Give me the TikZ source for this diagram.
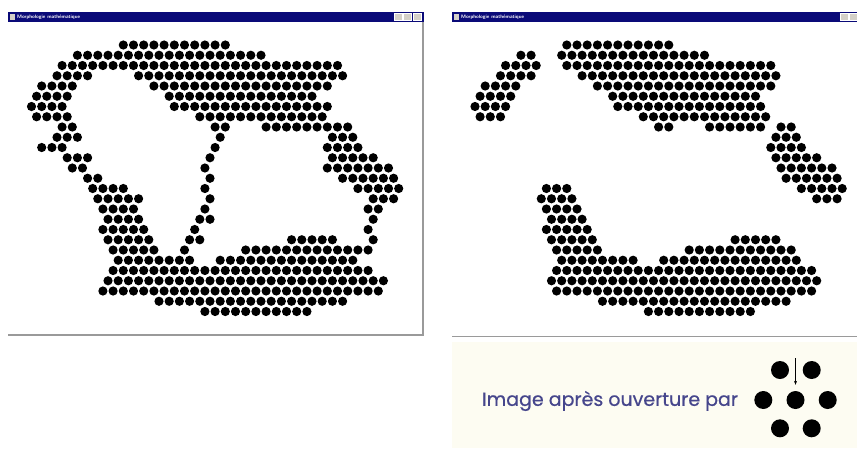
\documentclass[tikz,border=0pt]{standalone}
\usepackage{fontspec}
\newfontfamily\capfont{Poppins}[FakeBold=0.6]
\usetikzlibrary{arrows.meta}
\definecolor{titlenavy}{HTML}{0A0A78}
\definecolor{framegray}{HTML}{9A9A9A}
\definecolor{panelcream}{HTML}{FDFCF2}
\definecolor{captionblue}{HTML}{46468C}
\definecolor{btngray}{HTML}{D4D0C8}
\def\rowsL{0/0/20, 1/-9/27, 2/-12/42, 3/-13/-7, 3/3/43, 4/-16/-10, 4/6/40, 5/-17/-11, 5/9/37, 6/-18/-12, 6/10/40, 7/-17/-11, 7/15/39, 8/-12/-10, 8/18/20, 8/28/44, 9/-13/-9, 9/19/19, 9/41/45, 10/-16/-12, 10/18/18, 10/40/46, 11/-11/-7, 11/17/17, 11/41/49, 12/-10/-8, 12/16/16, 12/40/52, 13/-7/-5, 13/17/17, 13/43/53, 14/-6/0, 14/16/16, 14/46/54, 15/-5/3, 15/17/17, 15/49/53, 16/-4/2, 16/16/16, 16/48/50, 17/-3/3, 17/15/17, 17/49/49, 18/-4/4, 18/14/14, 18/48/48, 19/-3/5, 19/13/15, 19/33/41, 19/49/49, 20/-2/6, 20/12/12, 20/24/48, 21/-1/13, 21/19/45, 22/-2/48, 23/-3/51, 24/-4/50, 25/7/43, 26/16/36}
\def\rowsR{0/0/20, 1/-9/-7, 1/-1/27, 2/-12/-6, 2/0/40, 3/-13/-7, 3/3/41, 4/-16/-10, 4/6/40, 5/-17/-11, 5/9/37, 6/-18/-12, 6/10/38, 7/-17/-13, 7/15/39, 8/18/20, 8/28/38, 8/42/44, 9/41/45, 10/40/46, 11/41/49, 12/42/52, 13/43/53, 14/-4/0, 14/46/54, 15/-5/1, 15/49/53, 16/-4/2, 17/-3/3, 18/-4/4, 19/-3/5, 19/33/41, 20/-2/6, 20/24/44, 21/-1/13, 21/19/45, 22/-2/48, 23/-3/49, 24/-2/48, 25/7/43, 26/16/36}
\begin{document}
\begin{tikzpicture}[x=1pt,y=-1pt,
  titlebar/.style={fill=titlenavy},
  titletext/.style={text=white,font=\sffamily\bfseries\fontsize{5}{5}\selectfont,anchor=west,inner sep=0pt},
  btn/.style={fill=btngray,draw=white,line width=0.4pt},
  frameline/.style={draw=framegray,line width=1.6pt},
  pix/.style={fill=black},
  sedot/.style={circle,fill=black,minimum size=18pt,inner sep=0pt}]
\useasboundingbox (0,0) rectangle (857,448);
\fill[white] (0,0) rectangle (857,448);
% ---- left window
\fill[titlebar] (8,11.5) rectangle (424,22);
\fill[btngray] (10,14) rectangle (15,19.5);
\node[titletext] (titleL) at (17,16.8) {Morphologie mathématique};
\fill[btn] (394,13.5) rectangle (402,20.5);
\fill[btn] (403,13.5) rectangle (411,20.5);
\fill[btn] (413,13.5) rectangle (421,20.5);
\draw[frameline] (423,22) -- (423,336);
\draw[frameline] (8,335) -- (423,335);
% ---- right window
\fill[titlebar] (452,11.5) rectangle (857,22);
\fill[btngray] (454,14) rectangle (459,19.5);
\node[titletext] (titleR) at (461,16.8) {Morphologie mathématique};
\fill[btn] (840,13.5) rectangle (848,20.5);
\fill[btn] (849,13.5) rectangle (857,20.5);
\draw[frameline] (452,336.5) -- (857,336.5);
% ---- dots
\foreach \r/\a/\b in \rowsL {
  \pgfmathtruncatemacro\nn{(\b-\a)/2}
  \pgfmathsetmacro\yy{45+\r*10.25}
  \foreach \k in {0,...,\nn} {
    \pgfmathsetmacro\xx{123.3+\a*5.1+\k*10.2}
    \fill[pix] (\xx,\yy) circle (4.6pt);
  }
}
\foreach \r/\a/\b in \rowsR {
  \pgfmathtruncatemacro\nn{(\b-\a)/2}
  \pgfmathsetmacro\yy{45+\r*10.25}
  \foreach \k in {0,...,\nn} {
    \pgfmathsetmacro\xx{566.8+\a*5.1+\k*10.2}
    \fill[pix] (\xx,\yy) circle (4.6pt);
  }
}
% ---- caption panel
\fill[panelcream] (452,342) rectangle (857,448);
\node[text=captionblue,font=\capfont\fontsize{19}{19}\selectfont,anchor=center,inner sep=0pt] (caption) at (610,401) {Image après ouverture par};
\node[sedot] (s1) at (780,370) {};
\node[sedot] (s2) at (811.7,370) {};
\node[sedot] (s3) at (763.3,400) {};
\node[sedot] (c) at (795.5,400) {};
\node[sedot] (s5) at (827.7,400) {};
\node[sedot] (s6) at (780,428.3) {};
\node[sedot] (s7) at (811.7,428.3) {};
\coordinate (arrtop) at (795.5,358);
\draw[-{Stealth[length=4pt,width=3pt]},line width=0.6pt,shorten >=6pt] (arrtop) -- (c.north);
\end{tikzpicture}
\end{document}
